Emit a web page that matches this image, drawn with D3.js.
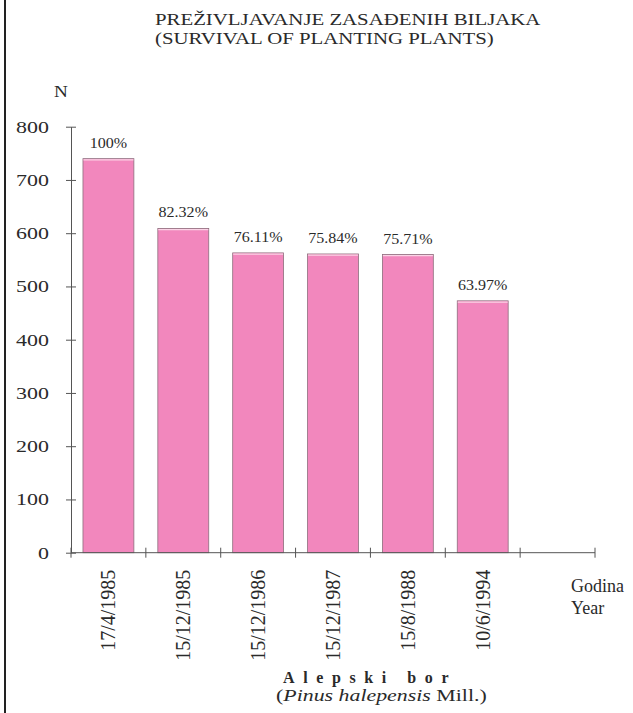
<!DOCTYPE html>
<html>
<head>
<meta charset="utf-8">
<script src="https://cdn.jsdelivr.net/npm/d3@7"></script>
<style>
  html, body { margin: 0; padding: 0; background: #fff; }
  svg { display: block; }
  svg text { font-family: "Liberation Serif", "Times New Roman", serif; fill: #2a2a2a; }
</style>
</head>
<body>
<script>
// ---- data ----
const categories = ["17/4/1985", "15/12/1985", "15/12/1986", "15/12/1987", "15/8/1988", "10/6/1994"];
const values = [740, 609, 563, 561, 560, 473];
const percentLabels = ["100%", "82.32%", "76.11%", "75.84%", "75.71%", "63.97%"];
const yTicks = [0, 100, 200, 300, 400, 500, 600, 700, 800];
const titleLines = ["PREŽIVLJAVANJE ZASAĐENIH BILJAKA", "(SURVIVAL OF PLANTING PLANTS)"];
const xTitleLines = ["Godina", "Year"];

const W = 633, H = 713;
const FONT = "Liberation Serif";
const svg = d3.select("body").append("svg").attr("width", W).attr("height", H)
  .attr("font-family", FONT);

// frame line on the left
svg.append("rect").attr("x", 4).attr("y", 0).attr("width", 2).attr("height", H).attr("fill", "#222");

const x0 = 71, x1 = 595, yBase = 552.7, yTop = 126.7;
const y = d3.scaleLinear().domain([0, 800]).range([yBase, yTop]);
const x = d3.scaleBand().domain(categories.concat([" "])).range([x0, x1])
  .paddingInner(0.32).paddingOuter(0.16);
const step = x.step();

// title
svg.append("g").selectAll("text").data(titleLines).join("text")
  .attr("transform", (d, i) => `translate(155,${25 + i * 18.5}) scale(1.19,1)`)
  .attr("font-family", FONT).attr("font-size", 17.5).text(d => d);

// N label
svg.append("text").attr("transform", "translate(61,97) scale(1.2,1)")
  .attr("text-anchor", "middle").attr("font-family", FONT)
  .attr("font-size", 16).text("N");

// bars
svg.append("g").selectAll("rect").data(values).join("rect")
  .attr("x", (d, i) => x(categories[i]))
  .attr("y", d => y(d))
  .attr("width", x.bandwidth())
  .attr("height", d => yBase - y(d))
  .attr("fill", "#f287bd")
  .attr("stroke", "#8c6f7d").attr("stroke-width", 0.8);

// bar top highlight
svg.append("g").selectAll("line").data(values).join("line")
  .attr("x1", (d, i) => x(categories[i]) + 0.5)
  .attr("x2", (d, i) => x(categories[i]) + x.bandwidth() - 0.5)
  .attr("y1", d => y(d) + 1.2).attr("y2", d => y(d) + 1.2)
  .attr("stroke", "#fbd3e6").attr("stroke-width", 1.2);

// percent labels
svg.append("g").selectAll("text").data(values).join("text")
  .attr("transform", (d, i) => `translate(${x(categories[i]) + x.bandwidth() / 2},${y(d) - 11}) scale(1.07,1)`)
  .attr("text-anchor", "middle").attr("font-family", FONT).attr("font-size", 15)
  .attr("fill", "#333")
  .text((d, i) => percentLabels[i]);

// y axis
const yAxis = d3.axisLeft(y).tickValues(yTicks).tickSize(0).tickFormat(d3.format("d"));
const gy = svg.append("g").attr("transform", `translate(${x0},0)`).call(yAxis);
gy.select(".domain").attr("stroke", "#555").attr("stroke-width", 1);
gy.selectAll(".tick line").remove();
gy.selectAll(".tick").append("line").attr("x1", -5).attr("x2", 5).attr("stroke", "#555");
gy.selectAll(".tick text")
  .attr("x", null).attr("dy", null)
  .attr("text-anchor", "end")
  .attr("font-size", 16.5).attr("font-family", FONT).attr("fill", "#2a2a2a")
  .attr("transform", "translate(-22,5.5) scale(1.33,1)");

// x axis
const gx = svg.append("g").attr("transform", `translate(0,${yBase})`);
gx.append("line").attr("x1", x0).attr("x2", x1).attr("stroke", "#555");
const boundaries = d3.range(0, categories.length + 2).map(i => x0 + i * step);
gx.selectAll("line.tk").data(boundaries).join("line").attr("class", "tk")
  .attr("x1", d => d).attr("x2", d => d).attr("y1", -5).attr("y2", 5).attr("stroke", "#555");

// x category labels (rotated)
svg.append("g").selectAll("text").data(categories).join("text")
  .attr("transform", d => `translate(${x(d) + x.bandwidth() / 2 + 7},${yBase + 17}) rotate(-90)`)
  .attr("text-anchor", "end").attr("font-family", FONT).attr("font-size", 20).text(d => d);

// x axis title
svg.append("g").selectAll("text").data(xTitleLines).join("text")
  .attr("transform", (d, i) => `translate(571,${592 + i * 22}) scale(1.0,1)`)
  .attr("font-family", FONT).attr("font-size", 18).text(d => d);

// species caption
svg.append("text").attr("x", 283).attr("y", 683)
  .attr("font-family", FONT)
  .attr("font-size", 16).attr("font-weight", "bold").attr("letter-spacing", 8.6)
  .attr("fill", "#111").text("Alepski bor");
const cap = svg.append("text").attr("transform", "translate(276,701) scale(1.25,1)")
  .attr("font-family", FONT).attr("font-size", 17.5);
cap.append("tspan").text("(");
cap.append("tspan").attr("font-style", "italic").text("Pinus halepensis");
cap.append("tspan").text(" Mill.)");
</script>
</body>
</html>
